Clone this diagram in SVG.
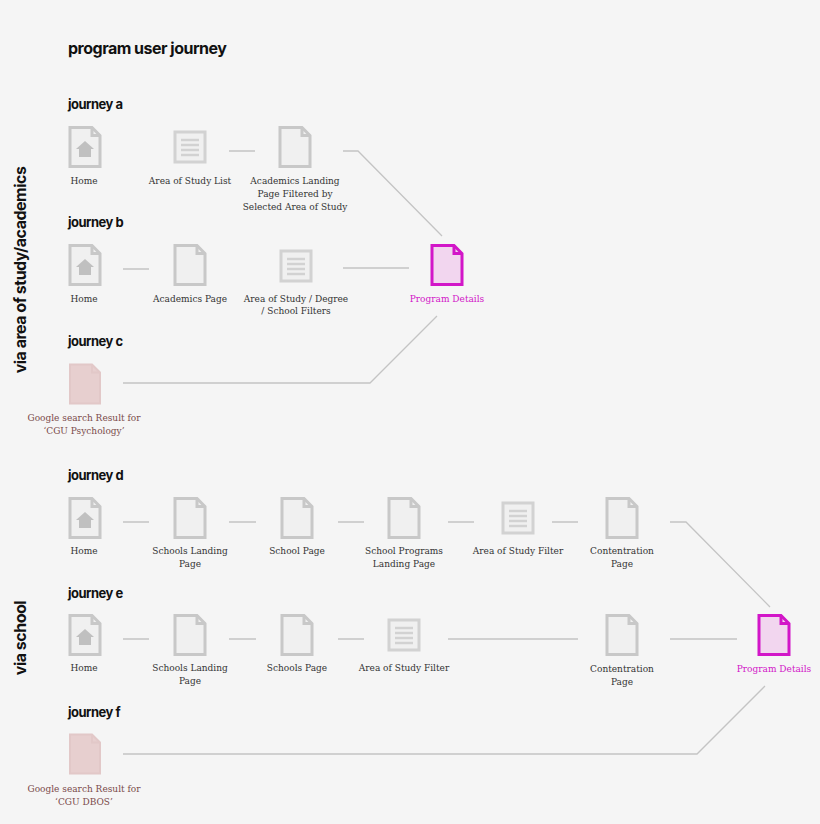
<svg xmlns="http://www.w3.org/2000/svg" width="820" height="824" viewBox="0 0 820 824">
<defs>
<style>
.h{font-family:Inter,"Noto Sans",sans-serif;font-weight:700;fill:#111;letter-spacing:-0.5px}
.t{font-family:"DejaVu Serif","Liberation Serif",serif;font-size:9px;fill:#333;text-anchor:middle}
.p{fill:#d216c8}
.r{fill:#7a4a4a}
.doc{fill:#f0f0f0;stroke:#c8c8c8;stroke-width:3}
.pk{fill:#f2d6ef;stroke:#d216c8;stroke-width:3}
.gs{fill:#e7cfcf;stroke:#e2c8c8;stroke-width:2}
.c{stroke:#c4c4c4;stroke-width:1.3;fill:none}
</style>
<g id="doc"><path class="doc" d="M-15,-19.5 H7 L15,-11.5 V19.5 H-15 Z"/><path d="M7,-19.5 V-11.5 H15" fill="none" stroke="#c8c8c8" stroke-width="3"/></g>
<g id="home"><use href="#doc"/><path d="M0,-6 L-9,2 H-6 V10 H6 V2 H9 Z" fill="#c0c0c0"/></g>
<g id="list"><rect x="-15" y="-15" width="30" height="30" fill="#f0f0f0" stroke="#d2d2d2" stroke-width="3"/><path d="M-9,-7H9M-9,-2H9M-9,3H9M-9,8H9" stroke="#d2d2d2" stroke-width="2.5"/></g>
<g id="pink"><path class="pk" d="M-15,-19.5 H7 L15,-11.5 V19.5 H-15 Z"/><path d="M7,-19.5 V-11.5 H15" fill="none" stroke="#d216c8" stroke-width="3"/></g>
<g id="gdoc"><path class="gs" d="M-15,-19.5 H7 L15,-11.5 V19.5 H-15 Z"/><path d="M7,-19.5 V-11.5 H15" fill="none" stroke="#e2c8c8" stroke-width="2"/></g>
</defs>
<rect width="820" height="824" fill="#f5f5f5"/>
<text class="h" x="68" y="54" font-size="16">program user journey</text>
<text class="h" font-size="16" transform="translate(26,270) rotate(-90)" text-anchor="middle">via area of study/academics</text>
<text class="h" font-size="16" transform="translate(26,638) rotate(-90)" text-anchor="middle">via school</text>
<g id="headings" font-size="13">
<text class="h" x="68" y="109" font-size="13">journey a</text>
<text class="h" x="68" y="227" font-size="13">journey b</text>
<text class="h" x="68" y="346" font-size="13">journey c</text>
<text class="h" x="68" y="480" font-size="13">journey d</text>
<text class="h" x="68" y="598" font-size="13">journey e</text>
<text class="h" x="68" y="717" font-size="13">journey f</text>
</g>
<g id="connectors">
<path class="c" d="M229,151H255M343,151H358L442,236"/>
<path class="c" d="M123,269H149M343,268H409"/>
<path class="c" d="M123,383H370L437,316"/>
<path class="c" d="M123,522H149M229,522H256M338,522H364M448,522H474M552,522H578M670,522H686L770,607"/>
<path class="c" d="M123,639H149M229,639H256M338,639H364M448,639H578M670,639H737"/>
<path class="c" d="M123,754H697L765,686"/>
</g>
<g id="a1"><use href="#home" x="85" y="147"/><text class="t" x="84" y="184">Home</text></g>
<g id="a2"><use href="#list" x="190" y="147"/><text class="t" x="190" y="184">Area of Study List</text></g>
<g id="a3"><use href="#doc" x="295" y="147"/><text class="t" x="295" y="184">Academics Landing</text><text class="t" x="295" y="197">Page Filtered by</text><text class="t" x="295" y="210">Selected Area of Study</text></g>
<g id="b1"><use href="#home" x="85" y="265"/><text class="t" x="84" y="302">Home</text></g>
<g id="b2"><use href="#doc" x="190" y="265"/><text class="t" x="190" y="302">Academics Page</text></g>
<g id="b3"><use href="#list" x="296" y="266"/><text class="t" x="296" y="302">Area of Study / Degree</text><text class="t" x="296" y="314">/ School Filters</text></g>
<g id="pd1"><use href="#pink" x="447" y="265"/><text class="t p" x="447" y="302">Program Details</text></g>
<g id="c1"><use href="#gdoc" x="85" y="384"/><text class="t r" x="84" y="421">Google search Result for</text><text class="t r" x="84" y="434">‘CGU Psychology’</text></g>
<g id="d1"><use href="#home" x="85" y="518"/><text class="t" x="84" y="554">Home</text></g>
<g id="d2"><use href="#doc" x="190" y="518"/><text class="t" x="190" y="554">Schools Landing</text><text class="t" x="190" y="567">Page</text></g>
<g id="d3"><use href="#doc" x="297" y="518"/><text class="t" x="297" y="554">School Page</text></g>
<g id="d4"><use href="#doc" x="404" y="518"/><text class="t" x="404" y="554">School Programs</text><text class="t" x="404" y="567">Landing Page</text></g>
<g id="d5"><use href="#list" x="518" y="518"/><text class="t" x="518" y="554">Area of Study Filter</text></g>
<g id="d6"><use href="#doc" x="622" y="518"/><text class="t" x="622" y="554">Contentration</text><text class="t" x="622" y="567">Page</text></g>
<g id="e1"><use href="#home" x="85" y="635"/><text class="t" x="84" y="671">Home</text></g>
<g id="e2"><use href="#doc" x="190" y="635"/><text class="t" x="190" y="671">Schools Landing</text><text class="t" x="190" y="684">Page</text></g>
<g id="e3"><use href="#doc" x="297" y="635"/><text class="t" x="297" y="671">Schools Page</text></g>
<g id="e4"><use href="#list" x="404" y="635"/><text class="t" x="404" y="671">Area of Study Filter</text></g>
<g id="e5"><use href="#doc" x="622" y="635"/><text class="t" x="622" y="672">Contentration</text><text class="t" x="622" y="685">Page</text></g>
<g id="pd2"><use href="#pink" x="774" y="635"/><text class="t p" x="774" y="672">Program Details</text></g>
<g id="f1"><use href="#gdoc" x="85" y="754"/><text class="t r" x="84" y="792">Google search Result for</text><text class="t r" x="84" y="805">‘CGU DBOS’</text></g>
</svg>
